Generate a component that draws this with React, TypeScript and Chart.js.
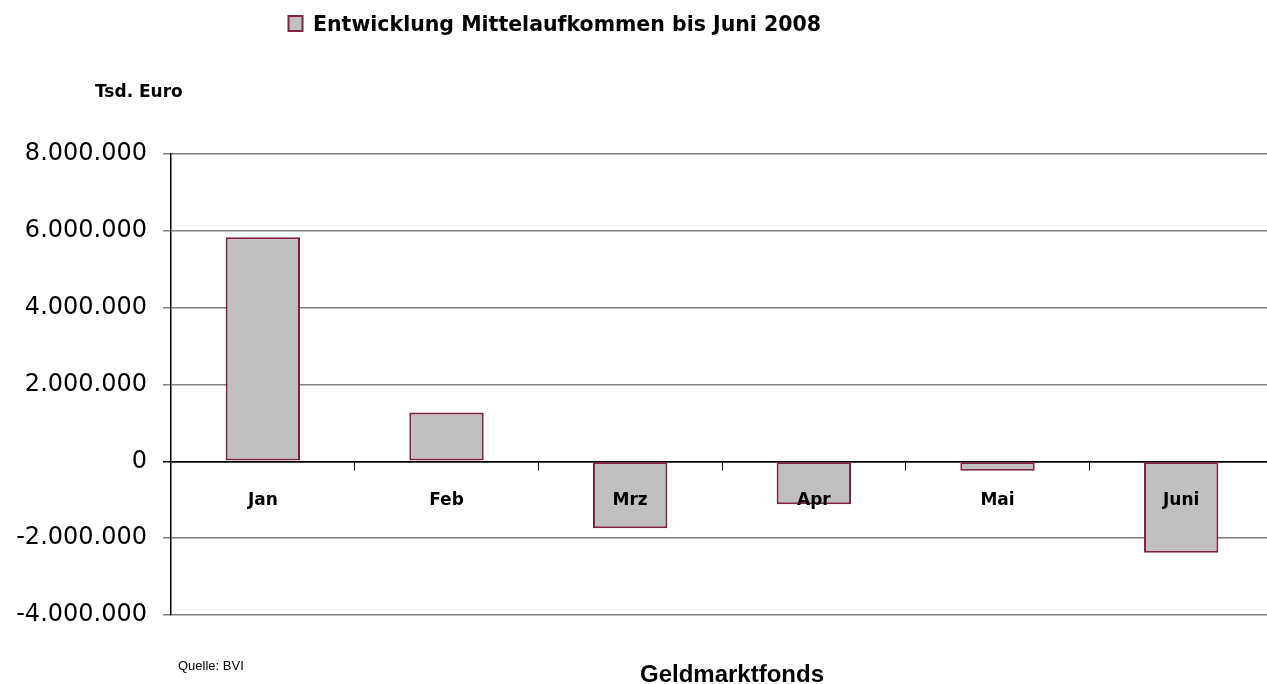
import React, { useEffect, useRef } from 'react';
import { Chart, registerables } from 'chart.js';

Chart.register(...registerables);

// ---- data ----
const categories = ['Jan', 'Feb', 'Mrz', 'Apr', 'Mai', 'Juni'];
const values = [5830000, 1270000, -1745000, -1120000, -245000, -2380000];
const seriesLabel = 'Entwicklung Mittelaufkommen bis Juni 2008';
const yTicks = [-4000000, -2000000, 0, 2000000, 4000000, 6000000, 8000000];
const unitLabel = 'Tsd. Euro';
const sourceLabel = 'Quelle: BVI';
const chartTitle = 'Geldmarktfonds';

const fmt = (n: number) => String(n).replace(/\B(?=(\d{3})+(?!\d))/g, '.');

const textPlugin = {
  id: 'extraTexts',
  afterDraw(chart: any) {
    const ctx = chart.ctx as CanvasRenderingContext2D;
    const ds = chart.data.datasets[0];
    ctx.save();
    // legend
    ctx.fillStyle = ds.backgroundColor;
    ctx.fillRect(288.5, 16, 14, 15);
    ctx.strokeStyle = ds.borderColor;
    ctx.lineWidth = 2;
    ctx.strokeRect(288.5, 16, 14, 15);
    ctx.fillStyle = '#000';
    ctx.textAlign = 'left';
    ctx.textBaseline = 'alphabetic';
    ctx.font = 'bold 20.5px "DejaVu Sans"';
    ctx.fillText(ds.label, 313, 31);
    // unit label
    ctx.font = 'bold 17px "DejaVu Sans"';
    ctx.fillText(unitLabel, 95, 97);
    // source
    ctx.font = '13px "Liberation Sans"';
    ctx.fillText(sourceLabel, 178, 670);
    // title
    ctx.font = 'bold 24px "Liberation Sans"';
    ctx.fillText(chartTitle, 640, 682);
    ctx.restore();
  },
};

export default function App() {
  const ref = useRef<HTMLCanvasElement>(null);
  useEffect(() => {
    if (!ref.current) return;
    const chart = new Chart(ref.current, {
      type: 'bar',
      data: {
        labels: categories,
        datasets: [
          {
            label: seriesLabel,
            data: values,
            backgroundColor: '#C0C0C0',
            borderColor: '#7E2444',
            borderWidth: 2,
            borderSkipped: false,
            barPercentage: 0.405,
            categoryPercentage: 1,
          },
        ],
      },
      options: {
        responsive: false,
        animation: false,
        devicePixelRatio: 1,
        layout: { padding: { left: 0, right: 7, top: 154, bottom: 69 } },
        plugins: {
          legend: { display: false },
          tooltip: { enabled: false },
          title: { display: false },
        },
        scales: {
          x: {
            position: { y: 0 } as any,
            offset: true,
            grid: {
              offset: true,
              drawOnChartArea: false,
              drawTicks: true,
              tickLength: 8,
              color: '#000',
              lineWidth: 1,
            },
            border: { display: true, color: '#000', width: 1.5 },
            ticks: {
              z: 1,
              padding: 21,
              color: '#000',
              font: { family: '"DejaVu Sans"', size: 17, weight: 'bold' },
              maxRotation: 0,
            },
          },
          y: {
            min: yTicks[0],
            max: yTicks[yTicks.length - 1],
            afterFit: (scale: any) => {
              scale.width = 171;
            },
            afterBuildTicks: (scale: any) => {
              scale.ticks = yTicks.map((v) => ({ value: v }));
            },
            grid: {
              color: (c: any) => (c.tick && c.tick.value === 0 ? '#000' : '#808080'),
              lineWidth: 1.5,
              drawTicks: true,
              tickLength: 8,
            },
            border: { display: true, color: '#000', width: 1.5 },
            ticks: {
              padding: 16,
              color: '#000',
              font: { family: '"DejaVu Sans"', size: 24 },
              callback: (v: any) => fmt(Number(v)),
            },
          },
        },
      },
      plugins: [textPlugin],
    });
    return () => chart.destroy();
  }, []);
  return (
    <div style={{ position: 'fixed', left: 0, top: 0, width: 1280, height: 684, background: '#fff' }}>
      <canvas ref={ref} width={1280} height={684} style={{ display: 'block' }} />
    </div>
  );
}
